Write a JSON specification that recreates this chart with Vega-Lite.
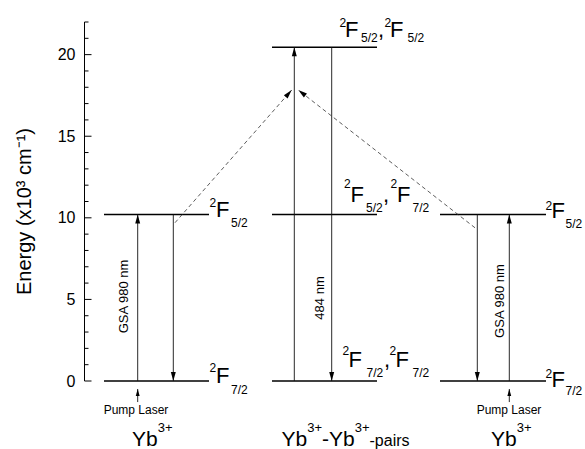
{
  "$schema": "https://vega.github.io/schema/vega-lite/v6.json",
  "width": 501,
  "height": 359,
  "autosize": {"type": "none"},
  "padding": {"left": 84, "top": 22, "right": 0, "bottom": 68},
  "background": "white",
  "config": {"view": {"stroke": null}, "font": "Liberation Sans"},
  "datasets": {
    "frame": [
      {"x": 84.5, "y": 0, "y2": 22}
    ],
    "ticks": [
      {"x": 84.5, "y": 0}, {"x": 84.5, "y": 1}, {"x": 84.5, "y": 2}, {"x": 84.5, "y": 3},
      {"x": 84.5, "y": 4}, {"x": 84.5, "y": 5}, {"x": 84.5, "y": 6}, {"x": 84.5, "y": 7},
      {"x": 84.5, "y": 8}, {"x": 84.5, "y": 9}, {"x": 84.5, "y": 10}, {"x": 84.5, "y": 11},
      {"x": 84.5, "y": 12}, {"x": 84.5, "y": 13}, {"x": 84.5, "y": 14}, {"x": 84.5, "y": 15},
      {"x": 84.5, "y": 16}, {"x": 84.5, "y": 17}, {"x": 84.5, "y": 18}, {"x": 84.5, "y": 19},
      {"x": 84.5, "y": 20}, {"x": 84.5, "y": 21}, {"x": 84.5, "y": 22}
    ],
    "levels": [
      {"x": 104, "x2": 209, "y": 0},
      {"x": 104, "x2": 209, "y": 10.2},
      {"x": 272, "x2": 377, "y": 0},
      {"x": 272, "x2": 377, "y": 10.2},
      {"x": 272, "x2": 377, "y": 20.45},
      {"x": 440, "x2": 546, "y": 0},
      {"x": 440, "x2": 546, "y": 10.2}
    ],
    "shafts": [
      {"x": 137.7, "y": 0, "y2": 10.2},
      {"x": 173.3, "y": 10.2, "y2": 0},
      {"x": 294.3, "y": 0, "y2": 20.45},
      {"x": 331.7, "y": 20.45, "y2": 0},
      {"x": 477.3, "y": 10.2, "y2": 0},
      {"x": 509.3, "y": 0, "y2": 10.2},
      {"x": 137.7, "y": -1.29, "y2": -0.49},
      {"x": 509.3, "y": -1.29, "y2": -0.49}
    ],
    "heads": [
      {"x": 137.7, "y": 10.2, "dir": "up"},
      {"x": 173.3, "y": 0, "dir": "down"},
      {"x": 294.3, "y": 20.45, "dir": "up"},
      {"x": 331.7, "y": 0, "dir": "down"},
      {"x": 477.3, "y": 0, "dir": "down"},
      {"x": 509.3, "y": 10.2, "dir": "up"},
      {"x": 137.7, "y": -0.49, "dir": "pump"},
      {"x": 509.3, "y": -0.49, "dir": "pump"}
    ],
    "dashed": [
      {"x": 175, "y": 9.7, "x2": 291.7, "y2": 17.83, "side": "left"},
      {"x": 475, "y": 9.39, "x2": 298.3, "y2": 17.83, "side": "right"}
    ],
    "dashedHeads": [
      {"x": 291.7, "y": 17.83, "side": "left"},
      {"x": 298.3, "y": 17.83, "side": "right"}
    ],
    "texts": [
      {"t": "2", "x": 209.5, "y": 10.68, "r": "sup"},
      {"t": "2", "x": 209.5, "y": 0.55, "r": "sup"},
      {"t": "2", "x": 339.5, "y": 21.69, "r": "sup"},
      {"t": "2", "x": 384.5, "y": 21.69, "r": "sup"},
      {"t": "2", "x": 344, "y": 11.81, "r": "sup"},
      {"t": "2", "x": 390.5, "y": 11.81, "r": "sup"},
      {"t": "2", "x": 342.5, "y": 1.59, "r": "sup"},
      {"t": "2", "x": 389.5, "y": 1.59, "r": "sup"},
      {"t": "2", "x": 545.5, "y": 10.48, "r": "sup"},
      {"t": "2", "x": 545.5, "y": 0.18, "r": "sup"},
      {"t": "F", "x": 216, "y": 10.07, "r": "main"},
      {"t": "F", "x": 216, "y": -0.12, "r": "main"},
      {"t": "F", "x": 345, "y": 21.08, "r": "main"},
      {"t": ",", "x": 378, "y": 21.08, "r": "main"},
      {"t": "F", "x": 390, "y": 21.08, "r": "main"},
      {"t": "F", "x": 350.5, "y": 10.99, "r": "main"},
      {"t": ",", "x": 383, "y": 10.99, "r": "main"},
      {"t": "F", "x": 397, "y": 10.99, "r": "main"},
      {"t": "F", "x": 348.5, "y": 0.86, "r": "main"},
      {"t": ",", "x": 384, "y": 0.86, "r": "main"},
      {"t": "F", "x": 395.5, "y": 0.86, "r": "main"},
      {"t": "F", "x": 551.5, "y": 9.99, "r": "main"},
      {"t": "F", "x": 551.5, "y": -0.37, "r": "main"},
      {"t": "5/2", "x": 231, "y": 9.46, "r": "sub"},
      {"t": "7/2", "x": 231, "y": -0.8, "r": "sub"},
      {"t": "5/2", "x": 361, "y": 20.77, "r": "sub"},
      {"t": "5/2", "x": 407.5, "y": 20.77, "r": "sub"},
      {"t": "5/2", "x": 366, "y": 10.36, "r": "sub"},
      {"t": "7/2", "x": 412.5, "y": 10.36, "r": "sub"},
      {"t": "7/2", "x": 366.5, "y": 0.25, "r": "sub"},
      {"t": "7/2", "x": 412.5, "y": 0.25, "r": "sub"},
      {"t": "5/2", "x": 565.5, "y": 9.38, "r": "sub"},
      {"t": "7/2", "x": 565.5, "y": -0.86, "r": "sub"},
      {"t": "Yb", "x": 132, "y": -3.98, "r": "big"},
      {"t": "Yb", "x": 281.5, "y": -3.98, "r": "big"},
      {"t": "-Yb", "x": 322, "y": -3.98, "r": "big"},
      {"t": "Yb", "x": 491, "y": -3.98, "r": "big"},
      {"t": "3+", "x": 157.7, "y": -3.13, "r": "bigsup"},
      {"t": "3+", "x": 307.2, "y": -3.13, "r": "bigsup"},
      {"t": "3+", "x": 354.7, "y": -3.13, "r": "bigsup"},
      {"t": "3+", "x": 516.7, "y": -3.13, "r": "bigsup"},
      {"t": "-pairs", "x": 369.5, "y": -3.98, "r": "pairs"},
      {"t": "Pump Laser", "x": 136, "y": -2.02, "r": "pump"},
      {"t": "Pump Laser", "x": 509, "y": -2.02, "r": "pump"},
      {"t": "GSA 980 nm", "x": 124, "y": 5.18, "r": "rot"},
      {"t": "484 nm", "x": 320, "y": 5.09, "r": "rot"},
      {"t": "GSA 980 nm", "x": 500, "y": 4.9, "r": "rot"}
    ]
  },
  "encoding": {
    "x": {"field": "x", "type": "quantitative", "scale": {"domain": [84, 585], "nice": false, "zero": false}, "axis": null},
    "y": {
      "field": "y",
      "type": "quantitative",
      "scale": {"domain": [0, 22], "nice": false, "zero": false},
      "axis": {
        "title": "Energy (x10³ cm⁻¹)",
        "values": [0, 5, 10, 15, 20],
        "domain": false,
        "ticks": false,
        "labelPadding": 9,
        "labelFont": "Liberation Sans",
        "labelFontSize": 16,
        "labelColor": "black",
        "labelFlush": false,
        "labelOverlap": false,
        "grid": false,
        "titleFont": "Liberation Sans",
        "titleFontSize": 20,
        "titleFontWeight": "normal",
        "titleColor": "black",
        "titleX": -60,
        "titleY": 189,
        "titleAngle": 270,
        "titleAlign": "center",
        "titleBaseline": "middle"
      }
    }
  },
  "layer": [
    {
      "data": {"name": "frame"},
      "mark": {"type": "rule", "color": "black", "strokeWidth": 1},
      "encoding": {"y2": {"field": "y2"}}
    },
    {
      "data": {"name": "ticks"},
      "transform": [{"filter": "datum.y % 5 === 0"}],
      "mark": {"type": "point", "shape": "M0,0L2,0", "size": 49, "filled": false, "color": "black", "opacity": 1, "strokeWidth": 1}
    },
    {
      "data": {"name": "ticks"},
      "transform": [{"filter": "datum.y % 5 !== 0"}],
      "mark": {"type": "point", "shape": "M0,0L2,0", "size": 16, "filled": false, "color": "black", "opacity": 1, "strokeWidth": 1}
    },
    {
      "data": {"name": "levels"},
      "mark": {"type": "rule", "color": "black", "strokeWidth": 1.6},
      "encoding": {"x2": {"field": "x2"}}
    },
    {
      "data": {"name": "shafts"},
      "mark": {"type": "rule", "color": "#111", "strokeWidth": 0.9},
      "encoding": {"y2": {"field": "y2"}}
    },
    {
      "data": {"name": "heads"},
      "transform": [{"filter": "datum.dir === 'up'"}],
      "mark": {"type": "point", "shape": "M0,0L0.55,2L-0.55,2Z", "size": 81, "filled": true, "color": "black", "opacity": 1, "strokeWidth": 0}
    },
    {
      "data": {"name": "heads"},
      "transform": [{"filter": "datum.dir === 'down'"}],
      "mark": {"type": "point", "shape": "M0,0L0.55,-2L-0.55,-2Z", "size": 81, "filled": true, "color": "black", "opacity": 1, "strokeWidth": 0}
    },
    {
      "data": {"name": "heads"},
      "transform": [{"filter": "datum.dir === 'pump'"}],
      "mark": {"type": "point", "shape": "M0,0L0.55,2L-0.55,2Z", "size": 49, "filled": true, "color": "black", "opacity": 1, "strokeWidth": 0}
    },
    {
      "data": {"name": "dashed"},
      "mark": {"type": "rule", "color": "#333", "strokeWidth": 0.8, "strokeDash": [4, 3]},
      "encoding": {"x2": {"field": "x2"}, "y2": {"field": "y2"}}
    },
    {
      "data": {"name": "dashedHeads"},
      "transform": [{"filter": "datum.side === 'left'"}],
      "mark": {"type": "point", "shape": "M0,0L0.55,2L-0.55,2Z", "size": 81, "angle": 41.3, "filled": true, "color": "black", "opacity": 1, "strokeWidth": 0}
    },
    {
      "data": {"name": "dashedHeads"},
      "transform": [{"filter": "datum.side === 'right'"}],
      "mark": {"type": "point", "shape": "M0,0L0.55,2L-0.55,2Z", "size": 81, "angle": -52.1, "filled": true, "color": "black", "opacity": 1, "strokeWidth": 0}
    },
    {
      "data": {"name": "texts"},
      "transform": [{"filter": "datum.r === 'sup'"}],
      "mark": {"type": "text", "font": "Liberation Sans", "fontSize": 12, "align": "left", "baseline": "alphabetic", "color": "black"},
      "encoding": {"text": {"field": "t"}}
    },
    {
      "data": {"name": "texts"},
      "transform": [{"filter": "datum.r === 'main'"}],
      "mark": {"type": "text", "font": "Liberation Sans", "fontSize": 22, "align": "left", "baseline": "alphabetic", "color": "black"},
      "encoding": {"text": {"field": "t"}}
    },
    {
      "data": {"name": "texts"},
      "transform": [{"filter": "datum.r === 'sub'"}],
      "mark": {"type": "text", "font": "Liberation Sans", "fontSize": 12, "align": "left", "baseline": "alphabetic", "color": "black"},
      "encoding": {"text": {"field": "t"}}
    },
    {
      "data": {"name": "texts"},
      "transform": [{"filter": "datum.r === 'big'"}],
      "mark": {"type": "text", "font": "Liberation Sans", "fontSize": 21, "align": "left", "baseline": "alphabetic", "color": "black"},
      "encoding": {"text": {"field": "t"}}
    },
    {
      "data": {"name": "texts"},
      "transform": [{"filter": "datum.r === 'bigsup'"}],
      "mark": {"type": "text", "font": "Liberation Sans", "fontSize": 13, "align": "left", "baseline": "alphabetic", "color": "black"},
      "encoding": {"text": {"field": "t"}}
    },
    {
      "data": {"name": "texts"},
      "transform": [{"filter": "datum.r === 'pairs'"}],
      "mark": {"type": "text", "font": "Liberation Sans", "fontSize": 16, "align": "left", "baseline": "alphabetic", "color": "black"},
      "encoding": {"text": {"field": "t"}}
    },
    {
      "data": {"name": "texts"},
      "transform": [{"filter": "datum.r === 'pump'"}],
      "mark": {"type": "text", "font": "Liberation Sans", "fontSize": 12, "align": "center", "baseline": "alphabetic", "color": "black"},
      "encoding": {"text": {"field": "t"}}
    },
    {
      "data": {"name": "texts"},
      "transform": [{"filter": "datum.r === 'rot'"}],
      "mark": {"type": "text", "font": "Liberation Sans", "fontSize": 13, "align": "center", "baseline": "middle", "angle": 270, "color": "black"},
      "encoding": {"text": {"field": "t"}}
    }
  ]
}
